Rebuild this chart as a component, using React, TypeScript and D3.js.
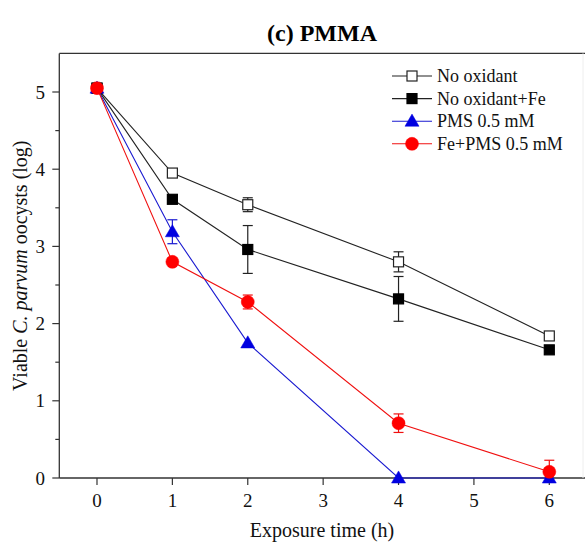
import React from "react";
import * as d3 from "d3";

const times = [0, 1, 2, 4, 6];
const seriesNames = ["No oxidant", "No oxidant+Fe", "PMS 0.5 mM", "Fe+PMS 0.5 mM"];
const noOxidant = [5.05, 3.95, 3.54, 2.8, 1.84];
const noOxidantErr = [0.03, 0.03, 0.09, 0.13, 0.04];
const noOxidantFe = [5.05, 3.61, 2.96, 2.32, 1.66];
const noOxidantFeErr = [0.03, 0.03, 0.31, 0.29, 0.05];
const pms = [5.05, 3.19, 1.75, 0.0, 0.0];
const pmsErr = [0.03, 0.155, 0.04, 0.0, 0.0];
const fePms = [5.05, 2.8, 2.28, 0.71, 0.08];
const fePmsErr = [0.03, 0.03, 0.09, 0.12, 0.15];
const xTicks = [0, 1, 2, 3, 4, 5, 6];
const yTicks = [0, 1, 2, 3, 4, 5];
const yMinorTicks = [0.5, 1.5, 2.5, 3.5, 4.5];

const W = 585;
const H = 544;
const FONT = "'Liberation Serif', 'Times New Roman', serif";

const x = d3.scaleLinear().domain([-0.5, 6.5]).range([59.3, 587]);
const y = d3.scaleLinear().domain([0, 5.5]).range([478, 53.4]);

type Series = { name: string; values: number[]; errs: number[]; color: string; marker: string; fill: string };

const series: Series[] = [
  { name: seriesNames[0], values: noOxidant, errs: noOxidantErr, color: "#222", marker: "square", fill: "#fff" },
  { name: seriesNames[1], values: noOxidantFe, errs: noOxidantFeErr, color: "#222", marker: "square", fill: "#000" },
  { name: seriesNames[2], values: pms, errs: pmsErr, color: "#1a1ad0", marker: "triangle", fill: "#0000e0" },
  { name: seriesNames[3], values: fePms, errs: fePmsErr, color: "#f01010", marker: "circle", fill: "#ff0000" },
];

function Marker({ kind, cx, cy, fill, stroke }: { kind: string; cx: number; cy: number; fill: string; stroke: string }) {
  if (kind === "square") {
    return <rect x={cx - 5} y={cy - 5} width={10} height={10} fill={fill} stroke={fill === "#fff" ? "#222" : "#000"} strokeWidth={1.2} />;
  }
  if (kind === "triangle") {
    const s = d3.symbol().type(d3.symbolTriangle).size(85)();
    return <path d={s || ""} transform={`translate(${cx},${cy + 1})`} fill={fill} stroke={fill} strokeWidth={0.5} />;
  }
  return <circle cx={cx} cy={cy} r={6.5} fill={fill} stroke={fill} strokeWidth={0.5} />;
}

export default function App() {
  const line = d3
    .line<number>()
    .x((_, i) => x(times[i]))
    .y((v) => y(v));

  return (
    <svg width={W} height={H} style={{ display: "block", position: "absolute", left: 0, top: 0, fontFamily: FONT }}>
      <rect x={0} y={0} width={W} height={H} fill="#fff" />
      <text x={322} y={41} textAnchor="middle" fontSize={24} fontWeight="bold" fill="#000">
        (c) PMMA
      </text>

      {/* axes frame */}
      <line x1={x(-0.5)} x2={W} y1={y(5.5)} y2={y(5.5)} stroke="#333" strokeWidth={1.3} />
      <line x1={x(-0.5)} x2={x(-0.5)} y1={y(5.5)} y2={y(0)} stroke="#333" strokeWidth={1.3} />
      <line x1={x(-0.5)} x2={W} y1={y(0)} y2={y(0)} stroke="#333" strokeWidth={1.3} />
      <line x1={583} x2={583} y1={y(5.5)} y2={y(0)} stroke="#eee" strokeWidth={1} />

      {xTicks.map((t) => (
        <g key={"xt" + t}>
          <line x1={x(t)} x2={x(t)} y1={y(0)} y2={y(0) + 7} stroke="#333" strokeWidth={1.2} />
          <text x={x(t)} y={507} textAnchor="middle" fontSize={19} fill="#111">
            {t}
          </text>
        </g>
      ))}
      {yTicks.map((t) => (
        <g key={"yt" + t}>
          <line x1={x(-0.5) - 7} x2={x(-0.5)} y1={y(t)} y2={y(t)} stroke="#333" strokeWidth={1.2} />
          <text x={45} y={y(t) + 6.5} textAnchor="end" fontSize={19} fill="#111">
            {t}
          </text>
        </g>
      ))}
      {yMinorTicks.map((t) => (
        <line key={"ym" + t} x1={x(-0.5) - 4} x2={x(-0.5)} y1={y(t)} y2={y(t)} stroke="#333" strokeWidth={1.2} />
      ))}

      <text x={322} y={537} textAnchor="middle" fontSize={20} fill="#111">
        Exposure time (h)
      </text>
      <text transform={`translate(27,${y(2.75)}) rotate(-90)`} textAnchor="middle" fontSize={20} fill="#111">
        Viable <tspan fontStyle="italic">C. parvum</tspan> oocysts (log)
      </text>

      {series.map((s) => (
        <g key={s.name}>
          <path d={line(s.values) || ""} fill="none" stroke={s.color} strokeWidth={1.1} />
          {s.values.map((v, i) =>
            s.errs[i] > 0.05 ? (
              <g key={"e" + i} stroke={s.color} strokeWidth={1.2}>
                <line x1={x(times[i])} x2={x(times[i])} y1={y(v + s.errs[i])} y2={y(Math.max(0, v - s.errs[i]))} />
                <line x1={x(times[i]) - 5} x2={x(times[i]) + 5} y1={y(v + s.errs[i])} y2={y(v + s.errs[i])} />
                {v - s.errs[i] > 0 && (
                  <line x1={x(times[i]) - 5} x2={x(times[i]) + 5} y1={y(v - s.errs[i])} y2={y(v - s.errs[i])} />
                )}
              </g>
            ) : null
          )}
          {s.values.map((v, i) => (
            <Marker key={"m" + i} kind={s.marker} cx={x(times[i])} cy={y(v)} fill={s.fill} stroke={s.color} />
          ))}
        </g>
      ))}

      {series.map((s, i) => {
        const ly = 76 + i * 22.6;
        return (
          <g key={"lg" + i}>
            <line x1={392} x2={432} y1={ly} y2={ly} stroke={s.color} strokeWidth={1.1} />
            <Marker kind={s.marker} cx={412} cy={ly} fill={s.fill} stroke={s.color} />
            <text x={437} y={ly + 6} fontSize={18} fill="#111">
              {s.name}
            </text>
          </g>
        );
      })}
    </svg>
  );
}
